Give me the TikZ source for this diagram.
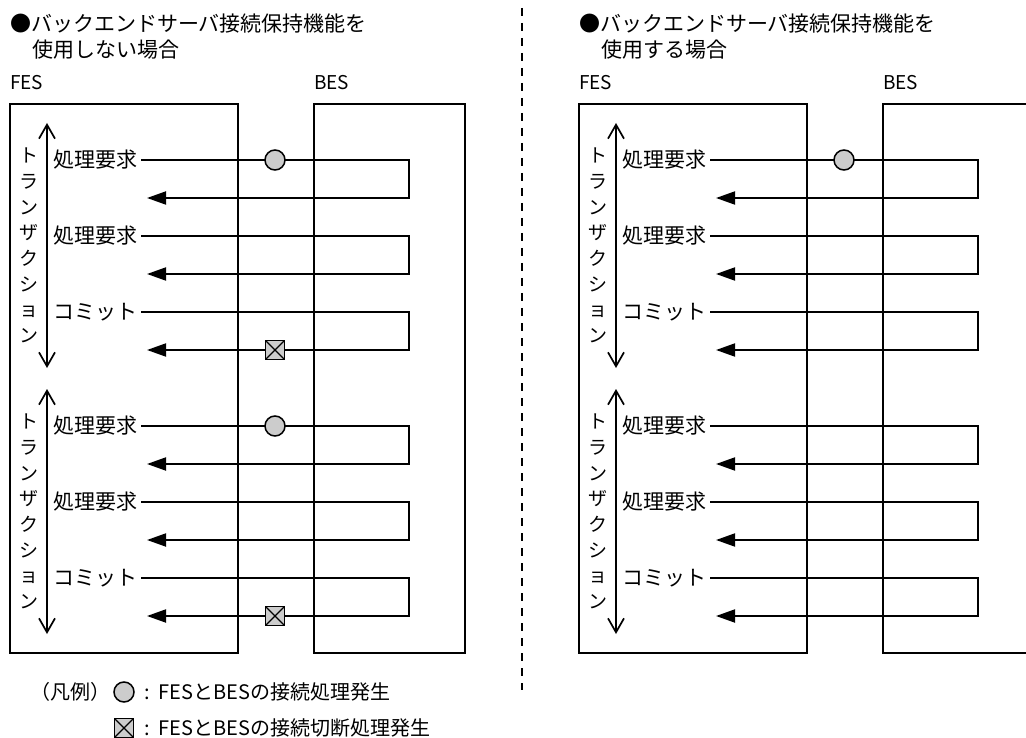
\documentclass[tikz,border=0pt]{standalone}
\usepackage{fontspec}
\setmainfont{Noto Sans CJK JP}
\usetikzlibrary{arrows.meta}
\definecolor{lineBlack}{HTML}{000000}
\definecolor{markGray}{HTML}{CCCCCC}

\begin{document}
\begin{tikzpicture}[x=1pt, y=-1pt, >=Stealth]
    \useasboundingbox (0,0) rectangle (1026,738);

    % --- 1. Styles ---
    \tikzstyle{server}=[draw=lineBlack, line width=1.9pt, rectangle, inner sep=0pt, outer sep=0pt]
    \tikzstyle{title}=[anchor=west, inner sep=0pt, font=\fontsize{21}{26}\selectfont]
    \tikzstyle{srvname}=[anchor=west, inner sep=0pt, font=\fontsize{19}{22}\selectfont]
    \tikzstyle{msg}=[anchor=west, inner ysep=0pt, inner xsep=4pt, font=\fontsize{21}{26}\selectfont]
    \tikzstyle{vtext}=[align=center, inner sep=0pt, font=\fontsize{19}{25.7}\selectfont]
    \tikzstyle{flow}=[draw=lineBlack, line width=1.9pt, -{Triangle[length=19pt, width=13pt]}]
    \tikzstyle{txarrow}=[draw=lineBlack, line width=1.7pt,
        {Straight Barb[length=14pt, width=16pt]}-{Straight Barb[length=14pt, width=16pt]}]
    \tikzstyle{connmark}=[circle, draw=lineBlack, fill=markGray, line width=1.5pt, minimum size=20pt, inner sep=0pt]
    \tikzstyle{cutmark}=[rectangle, draw=lineBlack, fill=markGray, line width=1.5pt, minimum size=19pt, inner sep=0pt,
        path picture={\draw[line width=1.2pt] (path picture bounding box.north west) -- (path picture bounding box.south east)
            (path picture bounding box.north east) -- (path picture bounding box.south west);}]

    % --- 2. The two panels ---
    % a = without keep-alive, b = with keep-alive
    \foreach \px/\pn/\usetxt in {0/a/使用しない場合, 569/b/使用する場合} {
        \begin{scope}[xshift=\px]
            % Heading
            \node[title] (head1-\pn) at (10,24) {●バックエンドサーバ接続保持機能を};
            \node[title] (head2-\pn) at (32,50) {\usetxt};

            % Server boxes
            \node[srvname] (feslbl-\pn) at (10,83) {FES};
            \node[srvname] (beslbl-\pn) at (314,83) {BES};
            \node[server, minimum width=228pt, minimum height=549pt] (fes-\pn) at (124,378.5) {};
            \node[server, minimum width=151pt, minimum height=549pt] (bes-\pn) at (389.5,378.5) {};

            % Transactions
            \foreach \t/\ty in {1/0, 2/266} {
                \coordinate (txtop-\pn-\t) at (47,123+\ty);
                \coordinate (txbot-\pn-\t) at (47,368+\ty);
                \draw[txarrow] (txtop-\pn-\t) -- (txbot-\pn-\t);
                \node[vtext] (txlbl-\pn-\t) at (29,245.5+\ty) {ト\\ラ\\ン\\ザ\\ク\\シ\\ョ\\ン};

                % Request and reply
                \foreach \i/\iy/\lbl in {1/160/処理要求, 2/236/処理要求, 3/312/コミット} {
                    \node[msg] (req-\pn-\t-\i) at (49,\iy+\ty) {\lbl};
                    \coordinate (turn-\pn-\t-\i) at (409,\iy+\ty);
                    \coordinate (back-\pn-\t-\i) at (147,\iy+\ty+38);
                    \draw[flow] (req-\pn-\t-\i.east) -- (turn-\pn-\t-\i) |- (back-\pn-\t-\i);
                }
            }
        \end{scope}
    }

    % --- 3. Connect / disconnect marks ---
    \node[connmark] (conn-a-1) at (275,160) {};
    \node[cutmark] (cut-a-1) at (275,350) {};
    \node[connmark] (conn-a-2) at (275,426) {};
    \node[cutmark] (cut-a-2) at (275,616) {};
    \node[connmark] (conn-b-1) at (844,160) {};

    % --- 4. Divider ---
    \coordinate (divtop) at (522,8);
    \coordinate (divbot) at (522,690);
    \draw[lineBlack, line width=1.6pt, dash pattern=on 8pt off 7pt] (divtop) -- (divbot);

    % --- 5. Legend ---
    \node[title, font=\fontsize{20}{24}\selectfont] (legend) at (30,692) {（凡例）};
    \node[connmark] (legconn) at (124,692) {};
    \node[msg, font=\fontsize{20}{24}\selectfont] (legconntxt) at (140,692) {:\hspace{9pt}FESとBESの接続処理発生};
    \node[cutmark] (legcut) at (124,728) {};
    \node[msg, font=\fontsize{20}{24}\selectfont] (legcuttxt) at (140,728) {:\hspace{9pt}FESとBESの接続切断処理発生};

\end{tikzpicture}
\end{document}
